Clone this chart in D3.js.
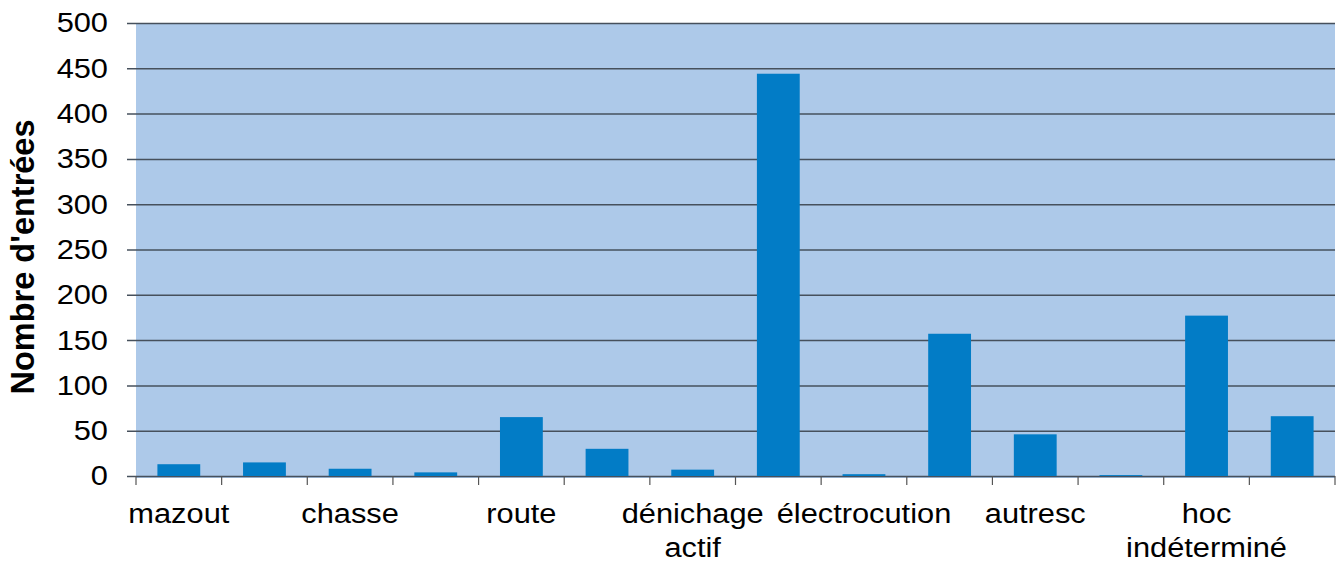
<!DOCTYPE html>
<html>
<head>
<meta charset="utf-8">
<script src="https://cdn.jsdelivr.net/npm/d3@7"></script>
<style>
  html, body { margin: 0; padding: 0; background: #fff; }
  svg { display: block; }
</style>
</head>
<body>
<svg id="chart" width="1343" height="568"></svg>
<script>
// categories: only every other one is labelled in the original chart
const categories = [
  'mazout', '', 'chasse', '', 'route', '', 'dénichage actif',
  '', 'électrocution', '', 'autresc', '', 'hoc indéterminé', ''
];
const values = [13, 15, 8, 4, 65, 30, 7, 444, 2, 157, 46, 1, 177, 66];
const yTicks = [0, 50, 100, 150, 200, 250, 300, 350, 400, 450, 500];
const yTitle = "Nombre d'entrées";

const margin = { top: 23, right: 8, bottom: 92, left: 136 };
const width = 1343 - margin.left - margin.right;
const height = 568 - margin.top - margin.bottom;

// the original text is slightly stretched horizontally
const stretch = 1.1;
const fontSize = 28;

const svg = d3.select('#chart')
  .attr('font-family', '"Liberation Sans", Arial, sans-serif');

const g = svg.append('g')
  .attr('transform', 'translate(' + margin.left + ',' + margin.top + ')');

const x = d3.scaleBand()
  .domain(d3.range(categories.length))
  .range([0, width])
  .paddingInner(0.5)
  .paddingOuter(0.25);

const band = d3.scaleBand()
  .domain(d3.range(categories.length))
  .range([0, width]);

const y = d3.scaleLinear().domain([0, 500]).range([height, 0]);

// plot background
g.append('rect')
  .attr('x', 0)
  .attr('y', 0)
  .attr('width', width)
  .attr('height', height + 2)
  .attr('fill', '#adc9e9');

// y axis with gridlines
const yAxis = g.append('g')
  .call(d3.axisLeft(y).tickValues(yTicks).tickSize(-width - 9))
  .call(s => s.select('.domain').remove());

yAxis.selectAll('.tick line')
  .attr('x1', -9)
  .attr('x2', width)
  .attr('stroke', '#46505c')
  .attr('stroke-width', 1.5);

yAxis.selectAll('.tick text')
  .attr('x', 0)
  .attr('transform', 'translate(-28,0) scale(' + stretch + ',1)')
  .attr('font-size', fontSize)
  .attr('fill', '#000');

// bars
g.selectAll('rect.bar')
  .data(values)
  .enter()
  .append('rect')
  .attr('class', 'bar')
  .attr('x', (d, i) => x(i))
  .attr('y', d => y(d))
  .attr('width', x.bandwidth())
  .attr('height', d => height - y(d))
  .attr('fill', '#027cc6');

// x axis tick marks at category boundaries
const bounds = d3.range(categories.length).map(i => band(i)).concat([width]);
g.selectAll('line.xtick')
  .data(bounds)
  .enter()
  .append('line')
  .attr('class', 'xtick')
  .attr('x1', d => d)
  .attr('x2', d => d)
  .attr('y1', height)
  .attr('y2', height + 9)
  .attr('stroke', '#555')
  .attr('stroke-width', 1.2);

// x labels, multi-word ones wrap onto two lines
const labels = g.selectAll('text.xlabel')
  .data(categories)
  .enter()
  .append('text')
  .attr('class', 'xlabel')
  .attr('text-anchor', 'middle')
  .attr('font-size', fontSize)
  .attr('fill', '#000')
  .attr('transform', (d, i) =>
    'translate(' + (band(i) + band.bandwidth() / 2) + ',' + (height + 47) + ')' +
    ' scale(' + stretch + ',1)');

labels.each(function(d) {
  const t = d3.select(this);
  d.split(' ').forEach((w, k) => {
    t.append('tspan')
      .attr('x', 0)
      .attr('dy', k === 0 ? 0 : 34)
      .text(w);
  });
});

// y title
svg.append('text')
  .attr('transform', 'translate(34,257) rotate(-90)')
  .attr('text-anchor', 'middle')
  .attr('font-size', 32.5)
  .attr('font-weight', 'bold')
  .attr('fill', '#000')
  .text(yTitle);
</script>
</body>
</html>
